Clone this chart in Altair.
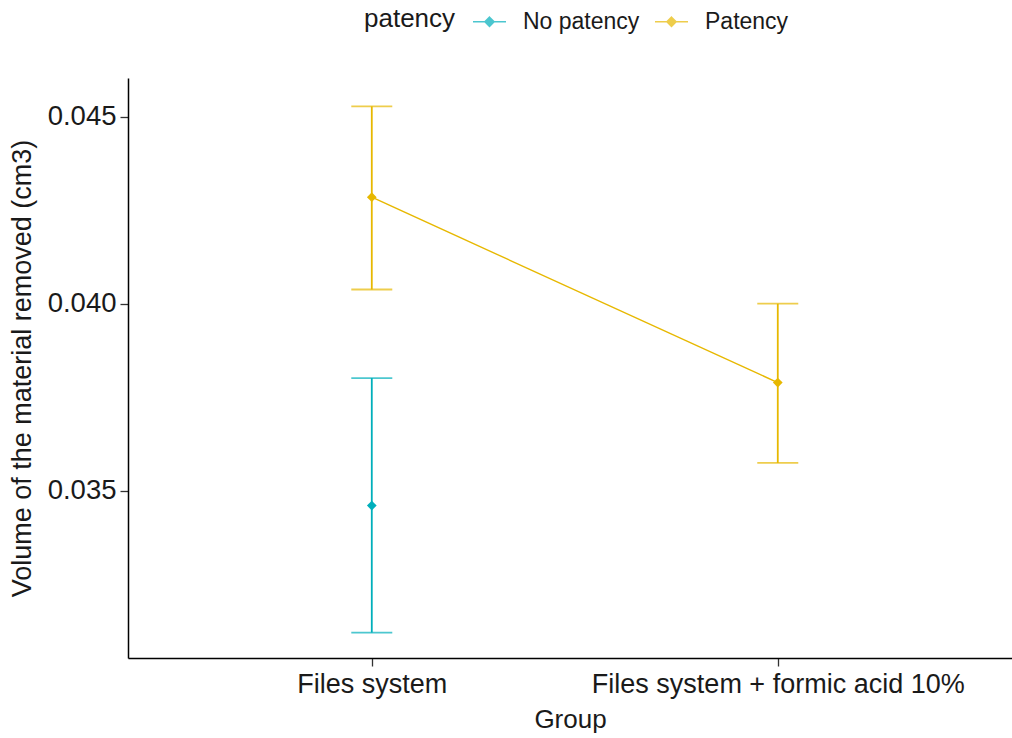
import altair as alt
import pandas as pd

# Mean volume removed with error bars, per group and patency
groups = ["Files system", "Files system", "Files system + formic acid 10%"]
patency = ["No patency", "Patency", "Patency"]
means = [0.03460, 0.04285, 0.03789]
lower = [0.03120, 0.04038, 0.03574]
upper = [0.03801, 0.04528, 0.04000]

group_order = ["Files system", "Files system + formic acid 10%"]
patency_order = ["No patency", "Patency"]
palette = ["#00AFBB", "#E7B800"]
y_ticks = [0.035, 0.040, 0.045]

df = pd.DataFrame({
    "Group": groups,
    "patency": patency,
    "mean": means,
    "lo": lower,
    "hi": upper,
})

FONT = "Liberation Sans"

x_enc = alt.X(
    "Group:N",
    sort=group_order,
    scale=alt.Scale(type="point", padding=0.5887, align=0.51),
    axis=alt.Axis(
        title="Group",
        labelAngle=0,
        labelLimit=600,
        labelFontSize=27,
        titleFontSize=26,
        labelPadding=5,
        titlePadding=9,
        tickSize=8,
    ),
)

y_scale = alt.Scale(domain=[0.03052, 0.04604], nice=False, zero=False)

y_enc = alt.Y(
    "mean:Q",
    scale=y_scale,
    axis=alt.Axis(
        title="Volume of the material removed (cm3)",
        values=y_ticks,
        format=".3f",
        labelFontSize=27.5,
        titleFontSize=27,
        labelPadding=4,
        titlePadding=11,
        titleY=290,
        tickSize=8,
    ),
)

color_enc = alt.Color(
    "patency:N",
    sort=patency_order,
    scale=alt.Scale(domain=patency_order, range=palette),
    legend=alt.Legend(
        title="patency",
        orient="none",
        direction="horizontal",
        titleOrient="left",
        titleAnchor="middle",
        titleBaseline="middle",
        legendX=236,
        legendY=-74,
        titleFontSize=26,
        titleFontWeight="normal",
        labelFontSize=23,
        titlePadding=16,
        labelOffset=16,
        columnPadding=11,
        symbolType="M-1,0L1,0M0,-0.27L0.27,0L0,0.27L-0.27,0Z",
        symbolSize=1089,
        symbolStrokeWidth=1.7,
    ),
)

base = alt.Chart(df)

bars = base.mark_rule(strokeWidth=1.8).encode(
    x=x_enc,
    y=alt.Y("lo:Q", scale=y_scale),
    y2="hi:Q",
    color=color_enc,
)

caps_hi = base.mark_tick(orient="horizontal", size=41, thickness=1.8).encode(
    x=x_enc, y=alt.Y("hi:Q", scale=y_scale), color=color_enc
)
caps_lo = base.mark_tick(orient="horizontal", size=41, thickness=1.8).encode(
    x=x_enc, y=alt.Y("lo:Q", scale=y_scale), color=color_enc
)

line = base.mark_line(strokeWidth=1.4).encode(
    x=x_enc, y=y_enc, color=color_enc
)

points = base.mark_point(shape="diamond", filled=True, size=95, opacity=1).encode(
    x=x_enc, y=y_enc, color=color_enc
)

chart = (
    alt.layer(line, bars, caps_hi, caps_lo, points)
    .properties(
        width=884,
        height=580,
        autosize=alt.AutoSizeParams(type="none"),
        padding={"left": 128, "top": 78, "right": 0, "bottom": 80},
        background="white",
    )
    .configure_view(strokeWidth=0)
    .configure_axis(
        grid=False,
        domainColor="black",
        domainWidth=1.5,
        tickColor="#333333",
        tickWidth=1.3,
        labelColor="#1a1a1a",
        titleColor="#1a1a1a",
        labelFont=FONT,
        titleFont=FONT,
        titleFontWeight="normal",
    )
    .configure_legend(labelFont=FONT, titleFont=FONT, labelColor="#1a1a1a", titleColor="#1a1a1a")
)

chart.save("out.html", embed_options={"renderer": "svg", "actions": False})
